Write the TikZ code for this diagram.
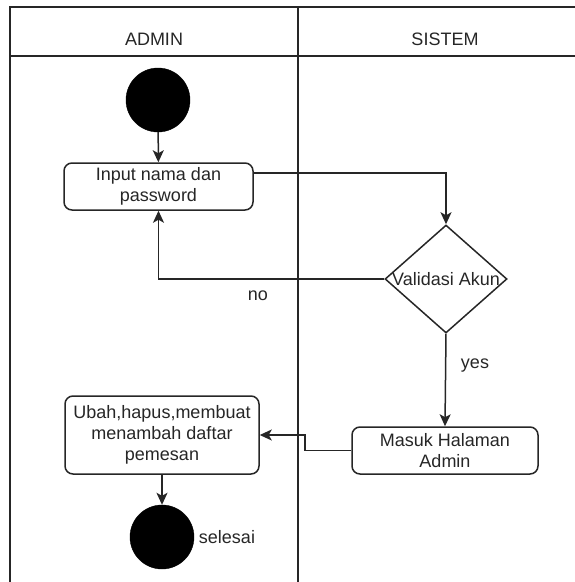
\documentclass[tikz,border=0pt]{standalone}
\usepackage{fontspec}
\setmainfont{Liberation Sans}
\usetikzlibrary{shapes.geometric,arrows.meta}
\begin{document}
\begin{tikzpicture}[x=1pt,y=-1pt,
  every node/.style={font=\fontsize{18}{21}\selectfont, text=black!85},
  lane/.style={line width=1.5pt, draw=black!85},
  actbox/.style={draw=black!85, line width=1.5pt, rounded corners=8pt, align=center, inner sep=0pt},
  dot/.style={circle, fill=black, draw=black, inner sep=0pt, minimum size=64pt},
  decision/.style={diamond, draw=black!85, line width=1.5pt, inner sep=0pt, minimum width=122pt, minimum height=108pt},
  flow/.style={line width=1.5pt, draw=black!85, -{Stealth[length=12pt,width=11pt,inset=3pt]}},
  txt/.style={inner sep=0pt}]
\useasboundingbox (0,0) rectangle (574,582);
% frame and lanes
\draw[lane] (10,590) -- (10,7) -- (600,7);
\draw[lane] (10,56) -- (600,56);
\draw[lane] (298,7) -- (298,590);
\node[txt] (hadmin) at (154,39) {ADMIN};
\node[txt] (hsistem) at (445,39) {SISTEM};
% nodes
\node[dot] (start) at (158,100) {};
\node[actbox, minimum width=189pt, minimum height=47pt] (input) at (158.5,186.5) {Input nama dan\\password};
\node[decision] (val) at (446,279) {};
\node[txt] (valtxt) at (val.center) {Validasi Akun};
\node[actbox, minimum width=186pt, minimum height=47pt] (masuk) at (445,450.5) {Masuk Halaman\\Admin};
\node[actbox, minimum width=194pt, minimum height=78pt] (ubah) at (162,435) {Ubah,hapus,membuat\\menambah daftar\\pemesan};
\node[dot] (end) at (162,537) {};
\node[txt] (selesai) at (227,537) {selesai};
\node[txt] (no) at (258,296) {no};
\node[txt] (yes) at (475,366) {yes};
% connectors
\draw[flow] (start) -- (input);
\draw[flow] (input.east |- 0,173) -| (val.north);
\draw[flow] (val.west) -| (input.south);
\draw[flow] (val.south) -- (masuk.north);
\coordinate (bend) at (305,450.5);
\draw[flow] (masuk.west) -- (bend) |- (ubah.east);
\draw[flow] (ubah.south) -- (end.north);
\end{tikzpicture}
\end{document}
